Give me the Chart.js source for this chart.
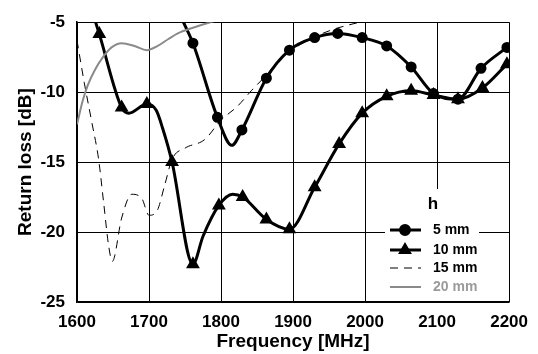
<!DOCTYPE html>
<html>
<head>
<meta charset="utf-8">
<script src="https://cdn.jsdelivr.net/npm/chart.js@4.4.1/dist/chart.umd.min.js"></script>
<style>
  html, body { margin: 0; padding: 0; background: #fff; }
  #wrap { width: 538px; height: 354px; }
</style>
</head>
<body>
<div id="wrap"><canvas id="chart" width="538" height="354"></canvas></div>
<script>
// axis ticks
const xTicks = [1600, 1700, 1800, 1900, 2000, 2100, 2200];
const yTicks = [-25, -20, -15, -10, -5];

// h = 5 mm (1 = measured point with marker)
const freq5 = [1745, 1761, 1795, 1815, 1829, 1863, 1895, 1930, 1962, 1996, 2030, 2064, 2095, 2129, 2161, 2197];
const rl5   = [-4.7, -6.5, -11.8, -13.8, -12.7, -9.0, -7.0, -6.1, -5.8, -6.1, -6.7, -8.2, -10.1, -10.5, -8.3, -6.8];
const mark5 = [0, 1, 1, 0, 1, 1, 1, 1, 1, 1, 1, 1, 1, 1, 1, 1];

// h = 10 mm
const freq10 = [1624, 1631, 1662, 1672, 1697, 1710, 1719, 1732, 1761, 1775, 1797, 1816, 1830, 1863, 1895, 1930, 1964, 1996, 2030, 2064, 2095, 2129, 2163, 2197];
const rl10   = [-4.7, -5.85, -11.1, -11.5, -10.85, -11.3, -12.6, -15.0, -22.3, -20.3, -18.1, -17.3, -17.5, -19.1, -19.8, -16.8, -13.7, -11.5, -10.3, -9.9, -10.2, -10.5, -9.7, -8.0];
const mark10 = [0, 1, 1, 0, 1, 0, 0, 1, 1, 0, 1, 0, 1, 1, 1, 1, 1, 1, 1, 1, 1, 1, 1, 1];

// h = 15 mm
const freq15 = [1600, 1610, 1620, 1630, 1637, 1644, 1649, 1662, 1676, 1690, 1700, 1711, 1722, 1732, 1750, 1777, 1800, 1823, 1842, 1858, 1880, 1910, 1951, 1992];
const rl15   = [-6.3, -9.3, -12.0, -14.8, -17.9, -21.0, -22.1, -19.0, -17.3, -17.6, -18.8, -18.5, -16.6, -14.8, -14.0, -13.4, -12.0, -11.0, -9.9, -9.05, -7.8, -6.6, -5.6, -5.0];

// h = 20 mm
const freq20 = [1600, 1608, 1615, 1625, 1636, 1648, 1662, 1680, 1697, 1712, 1727, 1740, 1761, 1785, 1800];
const rl20   = [-12.3, -10.6, -9.5, -8.4, -7.5, -6.8, -6.5, -6.7, -7.0, -6.7, -6.2, -5.8, -5.4, -5.0, -4.8];

const FONT = 'Arial, "Liberation Sans", Helvetica, sans-serif';

function pts(xs, ys) {
    return xs.map((x, i) => ({ x: x, y: ys[i] }));
}

// custom legend in the lower right corner, drawn over a white box
const legendBox = {
    id: 'legendBox',
    afterDatasetsDraw(chart) {
        const ctx = chart.ctx;
        ctx.save();
        ctx.fillStyle = '#fff';
        ctx.fillRect(385, 189, 94, 112);

        ctx.fillStyle = '#000';
        ctx.font = 'bold 17px ' + FONT;
        ctx.textAlign = 'center';
        ctx.textBaseline = 'middle';
        ctx.fillText('h', 433, 204);

        const rows = [230, 250, 268, 287];
        const order = ['5 mm', '10 mm', '15 mm', '20 mm'];
        order.forEach((label, i) => {
            const ds = chart.data.datasets.find(d => d.label === label);
            const y = rows[i];
            ctx.beginPath();
            ctx.strokeStyle = ds.borderColor;
            ctx.lineWidth = ds.borderWidth;
            ctx.setLineDash(ds.borderDash || []);
            ctx.moveTo(390, y);
            ctx.lineTo(421, y);
            ctx.stroke();
            ctx.setLineDash([]);
            if (ds.pointStyle) {
                ctx.fillStyle = ds.pointBackgroundColor;
                ctx.strokeStyle = ds.pointBorderColor;
                Chart.helpers.drawPoint(ctx, {
                    pointStyle: ds.pointStyle, rotation: 0,
                    radius: ds.legendRadius, borderWidth: 1
                }, 405, y);
            }
            ctx.fillStyle = ds.labelColor;
            ctx.font = 'bold 14px ' + FONT;
            ctx.textAlign = 'left';
            ctx.fillText(label, 433, y);
        });
        ctx.restore();
    }
};

const markerRadius = (marks, r) => c => (marks[c.dataIndex] ? r : 0);

new Chart(document.getElementById('chart'), {
    type: 'line',
    data: {
        datasets: [
            {
                label: '20 mm',
                data: pts(freq20, rl20),
                borderColor: '#8a8a8a',
                borderWidth: 2,
                pointRadius: 0,
                labelColor: '#9a9a9a'
            },
            {
                label: '15 mm',
                data: pts(freq15, rl15),
                borderColor: '#000',
                borderWidth: 1,
                borderDash: [8, 6],
                pointRadius: 0,
                labelColor: '#000'
            },
            {
                label: '10 mm',
                data: pts(freq10, rl10),
                borderColor: '#000',
                borderWidth: 3,
                pointStyle: 'triangle',
                pointRadius: markerRadius(mark10, 5),
                legendRadius: 5,
                pointBackgroundColor: '#000',
                pointBorderColor: '#000',
                labelColor: '#000'
            },
            {
                label: '5 mm',
                data: pts(freq5, rl5),
                borderColor: '#000',
                borderWidth: 3,
                pointStyle: 'circle',
                pointRadius: markerRadius(mark5, 4),
                legendRadius: 4.5,
                pointBackgroundColor: '#000',
                pointBorderColor: '#000',
                labelColor: '#000'
            }
        ]
    },
    options: {
        responsive: false,
        animation: false,
        devicePixelRatio: 1,
        layout: { padding: { left: 0, right: 28, top: 11, bottom: 0 } },
        elements: {
            line: { cubicInterpolationMode: 'monotone', fill: false },
            point: { hoverRadius: 0 }
        },
        plugins: {
            legend: { display: false },
            tooltip: { enabled: false }
        },
        scales: {
            x: {
                type: 'linear',
                min: 1600,
                max: 2200,
                afterFit: s => { s.height = 52; },
                afterBuildTicks: s => { s.ticks = xTicks.map(v => ({ value: v })); },
                grid: { color: '#000', lineWidth: 1, drawTicks: false },
                border: { color: '#000', width: 1.5 },
                ticks: {
                    color: '#000',
                    padding: 10,
                    maxRotation: 0,
                    font: { family: FONT, size: 17, weight: 'bold' },
                    callback: v => String(v)
                },
                title: {
                    display: true,
                    text: 'Frequency [MHz]',
                    color: '#000',
                    padding: { top: 0, bottom: 1 },
                    font: { family: FONT, size: 19, weight: 'bold' }
                }
            },
            y: {
                min: -25,
                max: -5,
                afterFit: s => { s.width = 77; },
                afterBuildTicks: s => { s.ticks = yTicks.map(v => ({ value: v })); },
                grid: { color: '#000', lineWidth: 1, drawTicks: false },
                border: { color: '#000', width: 1.5 },
                ticks: {
                    color: '#000',
                    padding: 12,
                    font: { family: FONT, size: 17, weight: 'bold' },
                    callback: v => String(v)
                },
                title: {
                    display: true,
                    text: 'Return loss [dB]',
                    color: '#000',
                    padding: { top: 14, bottom: 0 },
                    font: { family: FONT, size: 19, weight: 'bold' }
                }
            }
        }
    },
    plugins: [legendBox]
});
</script>
</body>
</html>
